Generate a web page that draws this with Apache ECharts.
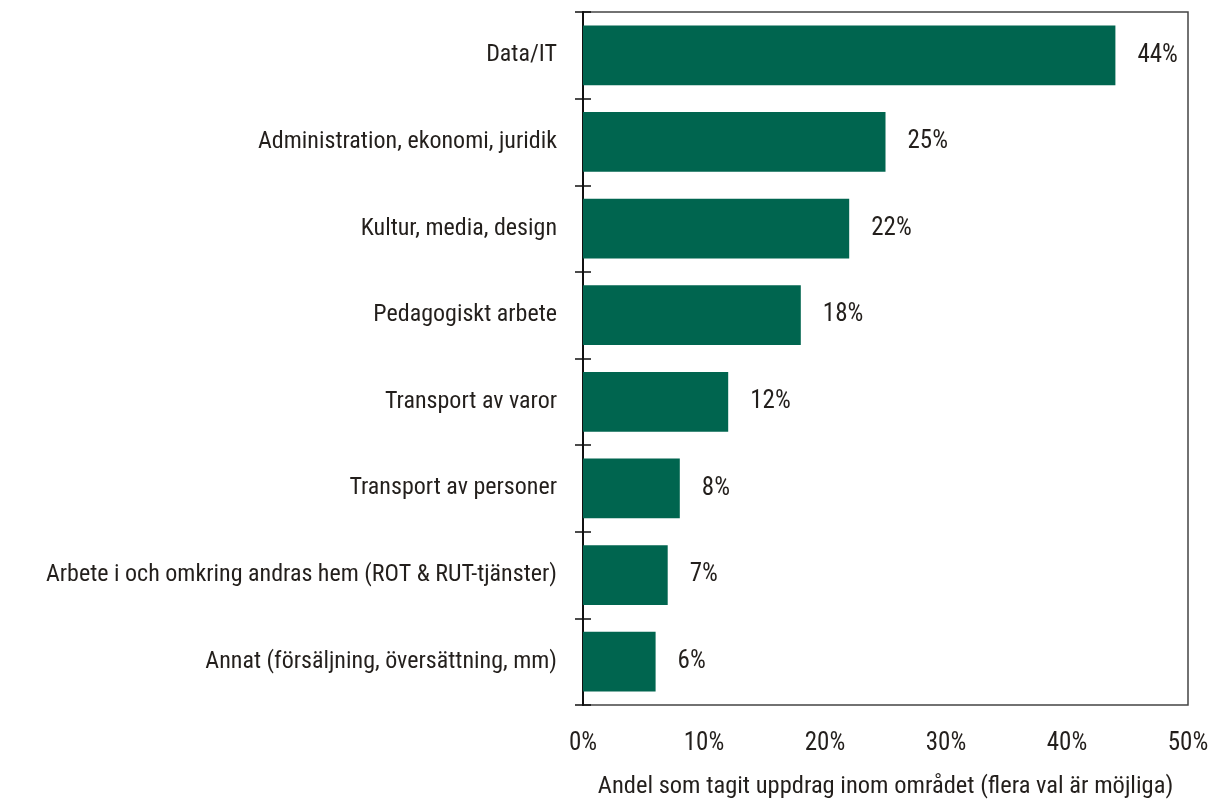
<!DOCTYPE html>
<html><head><meta charset="utf-8">
<script src="https://cdn.jsdelivr.net/npm/echarts@6/dist/echarts.min.js"></script>
<style>html,body{margin:0;padding:0;background:#fff}#c{width:1214px;height:799px}</style>
</head><body><div id="c"></div>
<script>
const categories = ["Data/IT","Administration, ekonomi, juridik","Kultur, media, design","Pedagogiskt arbete","Transport av varor","Transport av personer","Arbete i och omkring andras hem (ROT & RUT-tjänster)","Annat (försäljning, översättning, mm)"];
const values = [44,25,22,18,12,8,7,6];
const xTicks = [0,10,20,30,40,50];
const xAxisTitle = "Andel som tagit uppdrag inom området (flera val är möjliga)";

const font = '"Liberation Sans Narrow", "Arial Narrow", "Roboto Condensed", sans-serif';
const txt = '#231f1c';
const chart = echarts.init(document.getElementById('c'));
chart.setOption({
  animation:false,
  grid:{left:583,right:26,top:12,bottom:94,show:true,borderColor:'#444',borderWidth:1.5,containLabel:false,outerBoundsMode:'none'},
  xAxis:{type:'value',min:xTicks[0],max:xTicks[xTicks.length-1],interval:10,
    axisLine:{show:false},axisTick:{show:false},splitLine:{show:false},
    axisLabel:{formatter:'{value}%',fontFamily:font,fontSize:25,color:txt,margin:26},
    name:xAxisTitle,nameLocation:'middle',nameGap:69,
    nameTextStyle:{fontFamily:font,fontSize:24.5,color:txt,align:'center'}},
  yAxis:[{type:'category',data:categories,inverse:true,
    axisLine:{show:true,lineStyle:{color:'#111',width:2}},
    axisTick:{show:true,length:8,lineStyle:{color:'#111',width:1.5}},
    axisLabel:{fontFamily:font,fontSize:24,color:txt,margin:26}},
   {type:'category',data:categories,inverse:true,position:'left',
    axisLine:{show:false},
    axisTick:{show:true,inside:true,length:8,lineStyle:{color:'#111',width:1.5}},
    axisLabel:{show:false}}],
  series:[{type:'bar',data:values,barWidth:'69%',itemStyle:{color:'#00654F'},
    label:{show:true,position:'right',distance:22,formatter:'{c}%',fontFamily:font,fontSize:25,color:txt}}]
});
</script></body></html>
